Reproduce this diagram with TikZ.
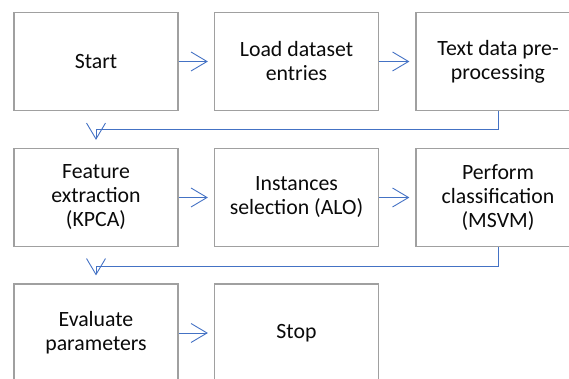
\documentclass[tikz,border=0pt]{standalone}
\usepackage{fontspec}
\setmainfont{Carlito}
\usepackage{tikz}
\usetikzlibrary{
  arrows.meta,
  positioning,
}
\definecolor{flowBlue}{RGB}{ 68, 114, 196}
\definecolor{flowGray}{RGB}{160, 160, 160}
\definecolor{flowInk} {RGB}{ 10,  10,  10}

\begin{document}
\begin{tikzpicture}[
  x=1pt, y=1pt,
  proc/.style={draw=flowGray, line width=1.2pt, minimum width=164pt,
               minimum height=98pt, align=center, inner sep=2pt,
               text=flowInk, font=\fontsize{21.8}{24}\selectfont},
  flow/.style={-{Straight Barb[length=16pt, width=19pt]}, draw=flowBlue,
               line width=0.9pt},
  % right-going steps stop a little short of the next box
  step right/.style={flow, shorten >=6pt},
  % row change: drop out of the last box, run back left, then down
  wrap/.style={flow, shorten >=8pt},
]
  \useasboundingbox (0,0) rectangle (569,379);

  % First row
  \node[proc] (start) at ( 96.0, 317.5) {Start};
  \node[proc] (load)  at (296.5, 317.5) {Load dataset\\entries};
  \node[proc] (prep)  at (498.0, 317.5) {Text data pre-\\processing};

  % Second row
  \node[proc] (feat)  at ( 96.0, 181.5) {Feature\\extraction\\(KPCA)};
  \node[proc] (inst)  at (296.5, 181.5) {Instances\\selection (ALO)};
  \node[proc] (clf)   at (498.0, 181.5) {Perform\\classification\\(MSVM)};

  % Third row (runs off the bottom edge)
  \node[proc] (eval)  at ( 96.0,  46.0) {Evaluate\\parameters};
  \node[proc] (stop)  at (296.5,  46.0) {Stop};

  % Steps along each row
  \draw[step right] (start.east) -- (load.west);
  \draw[step right] (load.east)  -- (prep.west);
  \draw[step right] (feat.east)  -- (inst.west);
  \draw[step right] (inst.east)  -- (clf.west);
  \draw[step right] (eval.east)  -- (stop.west);

  % Wrap-around to the next row
  \draw[wrap] (prep.south) -- ++(0,-18) -| (feat.north);
  \draw[wrap] (clf.south)  -- ++(0,-19) -| (eval.north);
\end{tikzpicture}
\end{document}
